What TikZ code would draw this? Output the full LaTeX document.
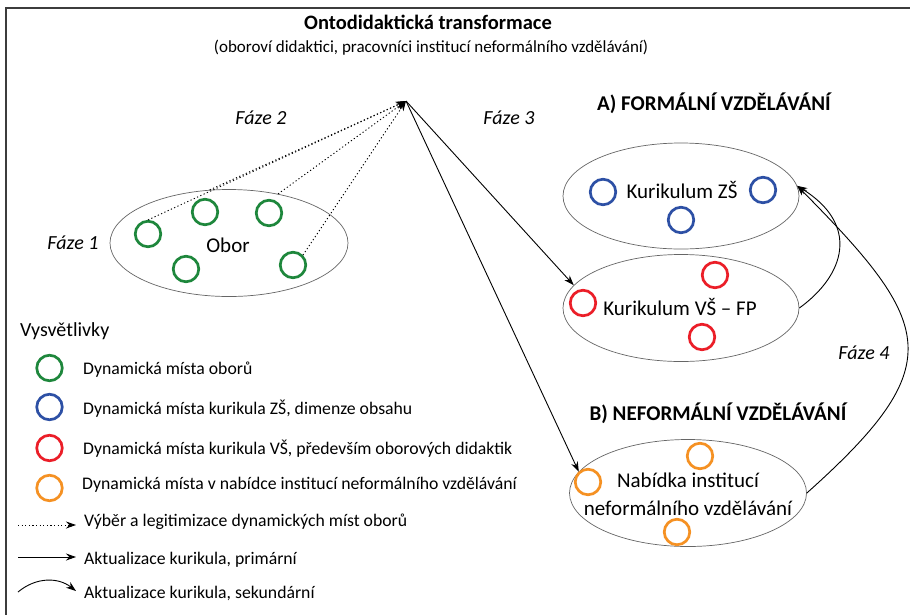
\documentclass[tikz,border=0pt]{standalone}
\usepackage{fontspec}
\setmainfont{Carlito}
\usetikzlibrary{arrows.meta,shapes.geometric}
\definecolor{cgreen}{RGB}{30,135,60}
\definecolor{cblue}{RGB}{45,80,165}
\definecolor{cred}{RGB}{235,30,40}
\definecolor{corange}{RGB}{245,145,35}
\definecolor{framegray}{RGB}{60,60,60}
\begin{document}
\begin{tikzpicture}[x=1pt,y=-1pt,
  dotc/.style={circle,draw,line width=2.7pt,minimum size=25.5pt,inner sep=0pt},
  field/.style={ellipse,draw=black!60,line width=0.7pt,minimum width=236pt,minimum height=106pt,inner sep=0pt},
  body/.style={font=\fontsize{17.7}{21}\selectfont,inner sep=0pt},
  big/.style={font=\fontsize{21}{28}\selectfont,inner sep=0pt},
  phase/.style={font=\fontsize{20}{24}\selectfont\itshape,inner sep=0pt},
  head/.style={font=\fontsize{21}{25}\selectfont\bfseries,inner sep=0pt},
  tip/.style={-{Stealth[length=10pt,width=7pt]}},
  sel/.style={tip,line width=0.9pt,dash pattern=on 1.2pt off 2.4pt},
  prim/.style={tip,line width=0.9pt},
  sec/.style={tip,line width=0.9pt}
]
\useasboundingbox (0,0) rectangle (910,614);
\fill[white] (0,0) rectangle (910,614);
\draw[framegray,line width=1.5pt] (6,640) -- (6,8) -- (940,8);

% titles
\node[font=\fontsize{20.5}{24}\selectfont\bfseries,inner sep=0pt] (title) at (428,22) {Ontodidaktická transformace};
\node[font=\fontsize{17}{20}\selectfont,inner sep=0pt] (subtitle) at (431,48) {(oboroví didaktici, pracovníci institucí neformálního vzdělávání)};

\coordinate (apex) at (406,101);

% phases
\node[phase] (f1) at (73,243) {Fáze 1};
\node[phase] (f2) at (261,118) {Fáze 2};
\node[phase] (f3) at (509,118) {Fáze 3};
\node[phase] (f4) at (864,353) {Fáze 4};

\node[head] (ha) at (714,103) {A) FORMÁLNÍ VZDĚLÁVÁNÍ};
\node[head] (hb) at (718,413) {B) NEFORMÁLNÍ VZDĚLÁVÁNÍ};

% Obor
\node[field,minimum width=238pt,minimum height=107pt] (obor) at (229,243) {};
\node[big] (obortext) at (228,245) {Obor};
\node[dotc,cgreen] (g1) at (148,234) {};
\node[dotc,cgreen] (g2) at (205,212) {};
\node[dotc,cgreen] (g3) at (269,213) {};
\node[dotc,cgreen] (g4) at (186,269) {};
\node[dotc,cgreen] (g5) at (293,265) {};

% Kurikulum ZS
\node[field] (zs) at (681,196) {};
\node[big] (zstext) at (682,190) {Kurikulum ZŠ};
\node[dotc,cblue] (b1) at (603,192) {};
\node[dotc,cblue] (b2) at (763,190) {};
\node[dotc,cblue] (b3) at (681,220) {};

% Kurikulum VS
\node[field,minimum height=107pt] (vs) at (681,308) {};
\node[big] (vstext) at (680,307) {Kurikulum VŠ – FP};
\node[dotc,cred] (r1) at (583,303) {};
\node[dotc,cred] (r2) at (715,275) {};
\node[dotc,cred] (r3) at (702,337) {};

% Nabidka
\node[field,minimum width=237pt,minimum height=107pt] (nab) at (688,493) {};
\node[big,align=center] (nabtext) at (688,494) {Nabídka institucí\\neformálního vzdělávání};
\node[dotc,corange] (o1) at (588,482) {};
\node[dotc,corange] (o2) at (700,456) {};
\node[dotc,corange] (o3) at (677,532) {};

% connectors
\draw[sel] (g1.north) -- (apex);
\draw[sel] (obor.110) -- (apex);
\draw[sel] (obor.45) -- (apex);
\draw[sel] (g5.north east) -- (apex);
\draw[prim] (apex) -- (vs.168);
\draw[prim] (apex) -- (nab.169);
\draw[sec] (vs.east) .. controls (845,275) and (860,225) .. (zs.5);
\draw[sec] (nab.east) .. controls (950,365) and (935,325) .. (zs.5);

% legend
\node[font=\fontsize{20}{24}\selectfont,inner sep=0pt,anchor=west] (leg) at (20,331) {Vysvětlivky};
\node[dotc,cgreen] (lg1) at (49.5,368) {};
\node[dotc,cblue] (lg2) at (49.5,407) {};
\node[dotc,cred] (lg3) at (49.5,448) {};
\node[dotc,corange] (lg4) at (49.5,488) {};
\node[body,anchor=west] (lt1) at (83,370) {Dynamická místa oborů};
\node[body,anchor=west] (lt2) at (83,409) {Dynamická místa kurikula ZŠ, dimenze obsahu};
\node[body,anchor=west] (lt3) at (83,449) {Dynamická místa kurikula VŠ, především oborových didaktik};
\node[body,anchor=west] (lt4) at (82,485) {Dynamická místa v nabídce institucí neformálního vzdělávání};
\coordinate (la1) at (18,525); \coordinate (lb1) at (76,525);
\coordinate (la2) at (18,557); \coordinate (lb2) at (76,557);
\coordinate (la3) at (18,592); \coordinate (lb3) at (76,591);
\draw[sel] (la1) -- (lb1);
\draw[prim] (la2) -- (lb2);
\draw[sec] (la3) .. controls (36,577) and (58,577) .. (lb3);
\node[body,anchor=west] (lt5) at (84,522) {Výběr a legitimizace dynamických míst oborů};
\node[body,anchor=west] (lt6) at (84,560) {Aktualizace kurikula, primární};
\node[body,anchor=west] (lt7) at (84,593) {Aktualizace kurikula, sekundární};
\end{tikzpicture}
\end{document}
